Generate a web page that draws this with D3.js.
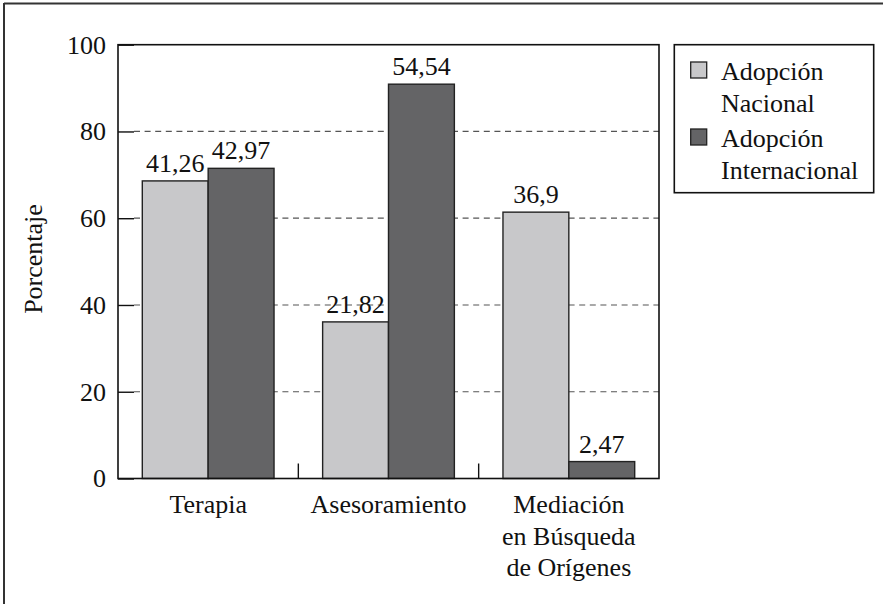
<!DOCTYPE html>
<html><head><meta charset="utf-8">
<script src="https://cdn.jsdelivr.net/npm/d3@7"></script>
<style>
html,body{margin:0;padding:0;background:#fff;}
svg{display:block;}
</style></head>
<body><svg id="c" width="883" height="604"></svg>
<script>
const categories = [["Terapia"], ["Asesoramiento"], ["Mediación", "en Búsqueda", "de Orígenes"]];
const categoryKeys = ["Terapia", "Asesoramiento", "Mediación en Búsqueda de Orígenes"];
const seriesNames = [["Adopción", "Nacional"], ["Adopción", "Internacional"]];
const nacionalValues = [68.6, 36.1, 61.4];
const internacionalValues = [71.5, 90.9, 3.9];
const nacionalLabels = ["41,26", "21,82", "36,9"];
const internacionalLabels = ["42,97", "54,54", "2,47"];
const yTicks = [0, 20, 40, 60, 80, 100];
const colors = ["#c8c8ca", "#646466"];

// pick an installed serif face
function pickFont() {
  const cands = ["Liberation Serif", "Times New Roman", "Tinos", "Times", "DejaVu Serif", "Noto Serif", "FreeSerif", "Nimbus Roman", "Georgia"];
  const ctx = document.createElement("canvas").getContext("2d");
  const s = "Asesoramiento Mediación 0123456789";
  const widths = {};
  ["monospace", "sans-serif"].forEach(b => { ctx.font = "26px " + b; widths[b] = ctx.measureText(s).width; });
  for (const c of cands) {
    let ok = true;
    for (const b of ["monospace", "sans-serif"]) {
      ctx.font = `26px '${c}', ${b}`;
      if (Math.abs(ctx.measureText(s).width - widths[b]) < 0.01) ok = false;
    }
    if (ok) return `'${c}'`;
  }
  return "serif";
}
const FONT = pickFont();

const svg = d3.select("#c");
const L = 118, R = 659, T = 44.7, B = 478.5;
const fs = 26;

// outer frame (top and left only)
svg.append("line").attr("x1", 4).attr("x2", 883).attr("y1", 3.5).attr("y2", 3.5).attr("stroke", "#333").attr("stroke-width", 2);
svg.append("line").attr("x1", 4).attr("x2", 4).attr("y1", 3).attr("y2", 604).attr("stroke", "#333").attr("stroke-width", 2);

const x0 = d3.scaleBand().domain(categoryKeys).range([L, R]).padding(0);
const bw = x0.bandwidth();
const pad = 24.3;
const x1 = d3.scaleBand().domain([0, 1]).range([pad, bw - pad]).padding(0);
const y = d3.scaleLinear().domain([0, 100]).range([B, T]);

// gridlines
svg.append("g").selectAll("line").data(yTicks.filter(t => t > 0 && t < 100)).join("line")
  .attr("x1", L + 16).attr("x2", R).attr("y1", d => y(d)).attr("y2", d => y(d))
  .attr("stroke", "#555").attr("stroke-width", 1.2).attr("stroke-dasharray", "6,4.6");

// bars
const data = categoryKeys.map((k, i) => ({k, vals: [nacionalValues[i], internacionalValues[i]], labs: [nacionalLabels[i], internacionalLabels[i]]}));
const groups = svg.append("g").selectAll("g").data(data).join("g")
  .attr("transform", d => `translate(${x0(d.k)},0)`);
groups.selectAll("rect").data(d => d.vals.map((v, j) => ({v, j}))).join("rect")
  .attr("x", d => x1(d.j)).attr("width", x1.bandwidth())
  .attr("y", d => y(d.v)).attr("height", d => B - y(d.v))
  .attr("fill", d => colors[d.j]).attr("stroke", "#222").attr("stroke-width", 1.4);
groups.selectAll("text.lab").data(d => d.vals.map((v, j) => ({v, j, l: d.labs[j]}))).join("text")
  .attr("class", "lab")
  .attr("x", d => x1(d.j) + x1.bandwidth() / 2).attr("y", d => y(d.v) - 9)
  .attr("text-anchor", "middle").attr("font-size", fs).attr("font-family", FONT).attr("fill", "#111").text(d => d.l);

// plot frame
svg.append("rect").attr("x", L).attr("y", T).attr("width", R - L).attr("height", B - T)
  .attr("fill", "none").attr("stroke", "#111").attr("stroke-width", 1.6);

// y axis
const yAxis = d3.axisLeft(y).tickValues(yTicks).tickSizeInner(-16).tickSizeOuter(0).tickPadding(12);
const ga = svg.append("g").attr("transform", `translate(${L},0)`).call(yAxis);
ga.attr("font-family", FONT).attr("font-size", fs);
ga.select(".domain").remove();
ga.selectAll(".tick line").attr("stroke", "#111").attr("stroke-width", 1.4);
ga.selectAll(".tick text").attr("fill", "#111");

// x boundary ticks
svg.append("g").selectAll("line").data(categoryKeys.slice(1)).join("line")
  .attr("x1", d => x0(d)).attr("x2", d => x0(d)).attr("y1", B).attr("y2", B - 15)
  .attr("stroke", "#111").attr("stroke-width", 1.4);

// category labels
svg.append("g").selectAll("text").data(categories).join("text")
  .attr("text-anchor", "middle").attr("font-size", fs).attr("font-family", FONT).attr("fill", "#111")
  .attr("transform", (d, i) => `translate(${x0(categoryKeys[i]) + bw / 2},513)`)
  .each(function(d) {
    d3.select(this).selectAll("tspan").data(d).join("tspan")
      .attr("x", 0).attr("y", (t, j) => j * 31.5).text(t => t);
  });

// y label
svg.append("text").attr("transform", "translate(42,259) rotate(-90)")
  .attr("text-anchor", "middle").attr("font-size", fs).attr("font-family", FONT).attr("fill", "#111").text("Porcentaje");

// legend
const lg = svg.append("g");
lg.append("rect").attr("x", 674.3).attr("y", 44.7).attr("width", 199.4).attr("height", 148)
  .attr("fill", "#fff").attr("stroke", "#111").attr("stroke-width", 1.6);
const items = lg.selectAll("g").data(seriesNames).join("g")
  .attr("transform", (d, i) => `translate(0,${i * 67})`);
items.append("rect").attr("x", 690.7).attr("y", 62).attr("width", 16).attr("height", 16)
  .attr("fill", (d, i) => colors[i]).attr("stroke", "#222").attr("stroke-width", 1.3);
items.append("text").attr("font-size", fs).attr("font-family", FONT).attr("fill", "#111")
  .each(function(d) {
    d3.select(this).selectAll("tspan").data(d).join("tspan")
      .attr("x", 721).attr("y", (t, j) => 80 + j * 31.5).text(t => t);
  });
</script></body></html>
